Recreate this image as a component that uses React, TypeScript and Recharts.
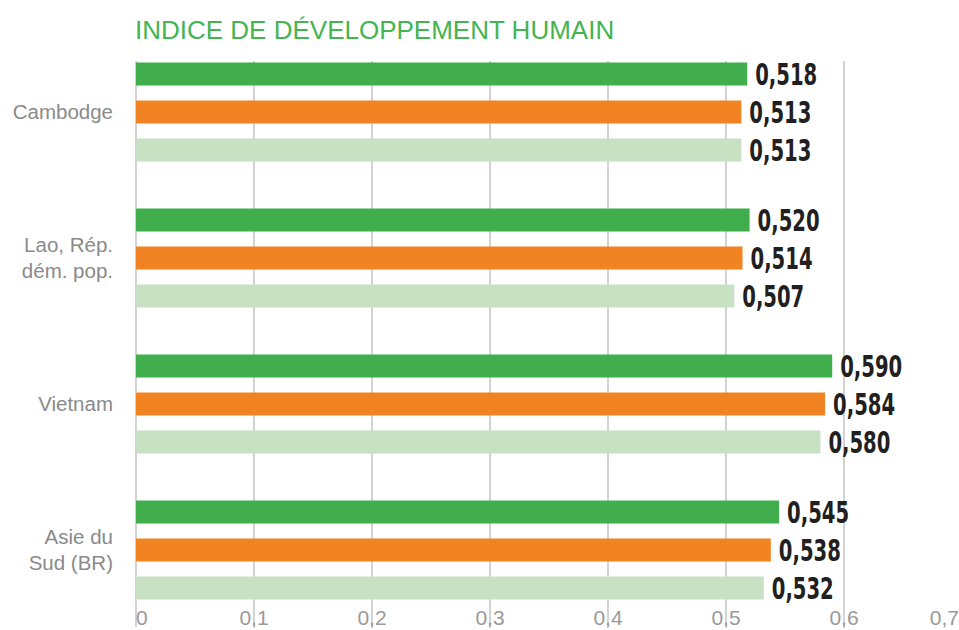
import { BarChart, Bar, XAxis, YAxis, CartesianGrid, LabelList } from "recharts"

const categories = ["Cambodge", "Lao, Rép.\ndém. pop.", "Vietnam", "Asie du\nSud (BR)"]
const hdiFirst = [0.518, 0.52, 0.59, 0.545]
const hdiSecond = [0.513, 0.514, 0.584, 0.538]
const hdiThird = [0.513, 0.507, 0.58, 0.532]
const xTicks = [0, 0.1, 0.2, 0.3, 0.4, 0.5, 0.6, 0.7]
const title = "INDICE DE DÉVELOPPEMENT HUMAIN"

const data = categories.map((name, i) => ({
    name,
    first: hdiFirst[i],
    second: hdiSecond[i],
    third: hdiThird[i],
}))

const fmtValue = (v: any) => Number(v).toFixed(3).replace(".", ",")
const fmtTick = (v: number) => (v === 0 ? "0" : v.toFixed(1).replace(".", ","))

// condensed black value labels, squeezed to the narrow width of the original face
function ValueLabel({ x, y, width, height, value }: any) {
    return (
        <text
            x={Number(x) + Number(width) + 8}
            y={Number(y) + Number(height) / 2}
            dy="0.37em"
            fill="#231f20"
            fontFamily="'DejaVu Sans Condensed', 'DejaVu Sans', sans-serif"
            fontWeight={700}
            fontSize={31}
            textLength={62}
            lengthAdjust="spacingAndGlyphs"
        >
            {fmtValue(value)}
        </text>
    )
}

function XTick({ x, y, payload }: any) {
    const v = payload.value
    const last = v === xTicks[xTicks.length - 1]
    return (
        <text
            x={x}
            y={y}
            dx={last ? -3 : 0}
            dy={-2}
            textAnchor={v === 0 ? "start" : last ? "end" : "middle"}
            fill="#9a9a9a"
            fontSize={21}
            fontFamily="'Liberation Sans', Arial, sans-serif"
        >
            {fmtTick(v)}
        </text>
    )
}

function YTick({ x, y, payload }: any) {
    const lines = String(payload.value).split("\n")
    const lh = 26
    return (
        <text
            x={x}
            y={y}
            textAnchor="end"
            fill="#8a8a8a"
            fontSize={20.5}
            fontFamily="'Liberation Sans', Arial, sans-serif"
        >
            {lines.map((l, i) => (
                <tspan key={i} x={x} dy={i === 0 ? 7 - ((lines.length - 1) * lh) / 2 : lh}>
                    {l}
                </tspan>
            ))}
        </text>
    )
}

export default function App() {
    return (
        <div style={{ position: "relative", width: 959, height: 630, overflow: "hidden", background: "#fff" }}>
            <style>{`body{margin:0}`}</style>
            <div
                style={{
                    position: "absolute",
                    left: 135,
                    top: 17,
                    fontSize: 26,
                    lineHeight: "26px",
                    color: "#44b451",
                    fontFamily: "'Liberation Sans', Arial, sans-serif",
                    whiteSpace: "nowrap",
                }}
            >
                {title}
            </div>
            <BarChart
                width={962}
                height={630}
                data={data}
                layout="vertical"
                margin={{ top: 61, right: 0, bottom: 0, left: 0 }}
                barSize={23}
                barGap={15}
            >
                <CartesianGrid horizontal={false} stroke="#c4c4c4" strokeWidth={1.5} />
                <XAxis
                    type="number"
                    domain={[0, 0.7]}
                    ticks={xTicks}
                    interval={0}
                    axisLine={false}
                    tickLine={false}
                    tickSize={0}
                    tickMargin={0}
                    height={3}
                    tick={<XTick />}
                />
                <YAxis
                    type="category"
                    dataKey="name"
                    width={136}
                    interval={0}
                    axisLine={false}
                    tickLine={false}
                    tickSize={0}
                    tickMargin={23}
                    padding={{ top: -22.5, bottom: 4.5 }}
                    tick={<YTick />}
                />
                <Bar dataKey="first" fill="#40ae4c" isAnimationActive={false}>
                    <LabelList dataKey="first" content={<ValueLabel />} />
                </Bar>
                <Bar dataKey="second" fill="#f28322" isAnimationActive={false}>
                    <LabelList dataKey="second" content={<ValueLabel />} />
                </Bar>
                <Bar dataKey="third" fill="#c8e1c3" isAnimationActive={false}>
                    <LabelList dataKey="third" content={<ValueLabel />} />
                </Bar>
            </BarChart>
        </div>
    )
}
